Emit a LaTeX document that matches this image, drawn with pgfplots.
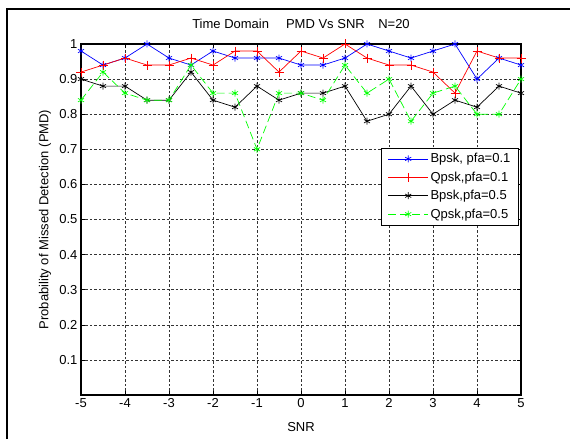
\documentclass[border=0pt]{standalone}
\usepackage{fontspec}
\setmainfont{Liberation Sans}
\usepackage{pgfplots}
\pgfplotsset{compat=1.18}
\definecolor{mred}{RGB}{255,0,0}
\definecolor{mgreen}{RGB}{0,255,0}
\definecolor{mblue}{RGB}{0,0,255}
\begin{document}
\begin{tikzpicture}[font=\fontsize{13pt}{15pt}\selectfont]
\path[use as bounding box] (0pt,0pt) rectangle (570pt,439pt);
\draw[line width=2pt] (6.5pt,0pt) -- (6.5pt,430pt) -- (570pt,430pt);
\begin{axis}[
  at={(81pt,44pt)}, anchor=south west,
  scale only axis, width=440pt, height=351pt,
  xmin=-5, xmax=5, ymin=0, ymax=1,
  xtick={-5,-4,-3,-2,-1,0,1,2,3,4,5},
  xticklabels={-5,-4,-3,-2,-1,0,1,2,3,4,5},
  ytick={0.1,0.2,0.3,0.4,0.5,0.6,0.7,0.8,0.9,1},
  yticklabels={0.1,0.2,0.3,0.4,0.5,0.6,0.7,0.8,0.9,1},
  /pgf/number format/assume math mode=true,
  tick align=inside, major tick length=4pt,
  tick style={black, line width=0.6pt},
  axis line style={line width=1.2pt},
  grid=major,
  major grid style={dash pattern=on 2.5pt off 2pt, line width=0.6pt, black!80},
  title={Time Domain\hspace{17pt}PMD Vs SNR\hspace{13.5pt}N=20},
  title style={at={(axis description cs:0.5,1.04)}, anchor=center},
  xlabel={SNR},
  xlabel style={at={(axis description cs:0.5,-0.091)}, anchor=center},
  ylabel={Probability of Missed Detection (PMD)},
  ylabel style={at={(axis description cs:-0.082,0.5)}, anchor=center, rotate=0},
  legend style={at={(rel axis cs:0.995,0.705)}, anchor=north east, draw=black, line width=0.8pt, inner xsep=6pt, inner ysep=3.5pt, row sep=3.5pt, font=\fontsize{13pt}{15pt}\selectfont},
  legend cell align=left,
  legend image code/.code={\draw[mark repeat=2,mark phase=2,#1] plot coordinates {(0pt,0pt) (20pt,0pt) (40pt,0pt)};},
]
\addplot[color=mblue, line width=0.7pt, mark=asterisk, mark size=3.5pt, mark options={mblue}] coordinates {
(-5,0.98) (-4.5,0.94) (-4,0.96) (-3.5,1.00) (-3,0.96) (-2.5,0.94) (-2,0.98) (-1.5,0.96) (-1,0.96) (-0.5,0.96) (0,0.94) (0.5,0.94) (1,0.96) (1.5,1.00) (2,0.98) (2.5,0.96) (3,0.98) (3.5,1.00) (4,0.90) (4.5,0.96) (5,0.94)};
\addlegendentry{Bpsk, pfa=0.1}
\addplot[color=mred, line width=0.7pt, mark=+, mark size=4.5pt, mark options={mred}] coordinates {
(-5,0.92) (-4.5,0.94) (-4,0.96) (-3.5,0.94) (-3,0.94) (-2.5,0.96) (-2,0.94) (-1.5,0.98) (-1,0.98) (-0.5,0.92) (0,0.98) (0.5,0.96) (1,1.00) (1.5,0.96) (2,0.94) (2.5,0.94) (3,0.92) (3.5,0.86) (4,0.98) (4.5,0.96) (5,0.96)};
\addlegendentry{Qpsk,pfa=0.1}
\addplot[color=black, line width=0.7pt, mark=asterisk, mark size=3.5pt] coordinates {
(-5,0.90) (-4.5,0.88) (-4,0.88) (-3.5,0.84) (-3,0.84) (-2.5,0.92) (-2,0.84) (-1.5,0.82) (-1,0.88) (-0.5,0.84) (0,0.86) (0.5,0.86) (1,0.88) (1.5,0.78) (2,0.80) (2.5,0.88) (3,0.80) (3.5,0.84) (4,0.82) (4.5,0.88) (5,0.86)};
\addlegendentry{Bpsk,pfa=0.5}
\addplot[color=mgreen, line width=0.7pt, dash pattern=on 8pt off 4pt, mark=asterisk, mark size=3.5pt, mark options={solid, mgreen}] coordinates {
(-5,0.84) (-4.5,0.92) (-4,0.86) (-3.5,0.84) (-3,0.84) (-2.5,0.94) (-2,0.86) (-1.5,0.86) (-1,0.70) (-0.5,0.86) (0,0.86) (0.5,0.84) (1,0.94) (1.5,0.86) (2,0.90) (2.5,0.78) (3,0.86) (3.5,0.88) (4,0.80) (4.5,0.80) (5,0.90)};
\addlegendentry{Qpsk,pfa=0.5}
\end{axis}
\end{tikzpicture}
\end{document}
